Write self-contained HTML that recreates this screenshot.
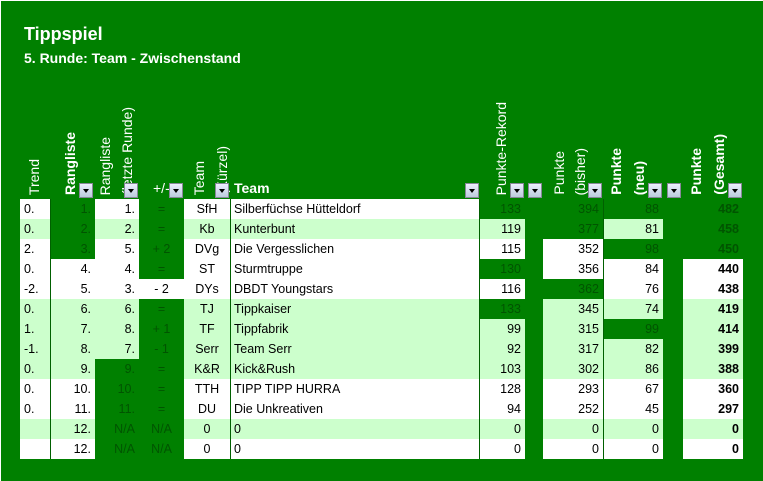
<!DOCTYPE html>
<html><head><meta charset="utf-8">
<style>
body{margin:0;width:763px;height:481px;overflow:hidden;background:#fff;}
#root{position:absolute;left:1px;top:1px;width:762px;height:480px;background:#008000;font-family:"Liberation Sans",sans-serif;overflow:hidden}
.t1{position:absolute;left:23px;top:23px;color:#fff;font-weight:bold;font-size:18px}
.t2{position:absolute;left:23px;top:49px;color:#fff;font-weight:bold;font-size:14px}
.vh{position:absolute;writing-mode:vertical-rl;transform:rotate(180deg);color:#fff;font-size:14px;line-height:20px;white-space:nowrap}
.b{font-weight:bold}
.hh{position:absolute;color:#fff;font-size:14px;top:179px}
.fb{position:absolute;top:182px;width:14px;height:15px;background:linear-gradient(#eef,#bcd);border:1px solid #889;box-sizing:border-box}
.fb:after{content:"";position:absolute;left:3px;top:5px;border-left:3px solid transparent;border-right:3px solid transparent;border-top:4px solid #000}
.c{position:absolute;height:20px;line-height:20px;font-size:12.5px;box-sizing:border-box;padding:0 4px;white-space:nowrap;overflow:hidden}
.vl{position:absolute;width:1px;background:#006000}
</style></head><body>
<div id="root">
<div class="t1">Tippspiel</div>
<div class="t2">5. Runde: Team - Zwischenstand</div>

<div class="vh" style="left:23px;bottom:286px">Trend</div>
<div class="vh b" style="left:59px;bottom:286px">Rangliste</div>
<div class="vh" style="left:94px;bottom:286px">Rangliste</div>
<div class="vh" style="left:116px;bottom:286px">(letzte Runde)</div>
<div class="hh" style="left:152px">+/-</div>
<div class="vh" style="left:188px;bottom:286px">Team</div>
<div class="vh" style="left:211px;bottom:286px">(Kürzel)</div>
<div class="hh b" style="left:233px">Team</div>
<div class="vh" style="left:490px;bottom:286px">Punkte-Rekord</div>
<div class="vh" style="left:548px;bottom:286px">Punkte</div>
<div class="vh" style="left:569px;bottom:286px">(bisher)</div>
<div class="vh b" style="left:605px;bottom:286px">Punkte</div>
<div class="vh b" style="left:628px;bottom:286px">(neu)</div>
<div class="vh b" style="left:685px;bottom:286px">Punkte</div>
<div class="vh b" style="left:708px;bottom:286px">(Gesamt)</div>

<div class="fb" style="left:78px"></div>
<div class="fb" style="left:123px"></div>
<div class="fb" style="left:168px"></div>
<div class="fb" style="left:214px"></div>
<div class="fb" style="left:464px"></div>
<div class="fb" style="left:509px"></div>
<div class="fb" style="left:527px"></div>
<div class="fb" style="left:587px"></div>
<div class="fb" style="left:647px"></div>
<div class="fb" style="left:666px"></div>
<div class="fb" style="left:727px"></div>
<div id="tbl"></div>
</div>
<script>
const trend=["0.","0.","2.","0.","-2.","0.","1.","-1.","0.","0.","0.","",""];
const rang=["1.","2.","3.","4.","5.","6.","7.","8.","9.","10.","11.","12.","12."];
const rangAlt=["1.","2.","5.","4.","3.","6.","8.","7.","9.","10.","11.","N/A","N/A"];
const diff=["=","=","+ 2","=","- 2","=","+ 1","- 1","=","=","=","N/A","N/A"];
const kurz=["SfH","Kb","DVg","ST","DYs","TJ","TF","Serr","K&R","TTH","DU","0","0"];
const teams=["Silberfüchse Hütteldorf","Kunterbunt","Die Vergesslichen","Sturmtruppe","DBDT Youngstars","Tippkaiser","Tippfabrik","Team Serr","Kick&Rush","TIPP TIPP HURRA","Die Unkreativen","0","0"];
const rekord=[133,119,115,130,116,133,99,92,103,128,94,0,0];
const bisher=[394,377,352,356,362,345,315,317,302,293,252,0,0];
const neu=[88,81,98,84,76,74,99,82,86,67,45,0,0];
const gesamt=[482,458,450,440,438,419,414,399,388,360,297,0,0];
const fills=["WGWGWWGGGGGG","LGLGLLLGGLGG","WGWGWWWGWGGG","WWWGWWGGWWGW","WWWWWWWGGWGW","LLLGLLGGLLGL","LLLGLLLGLGGL","LLLGLLLGLLGL","LLGGLLLGLLGL","WWGGWWWGWWGW","WWGGWWWGWWGW","LLGGLLLGLLGL","WWGGWWWGWWGW"];
const cols=[[20,50,"left"],[50,95,"right"],[95,139,"right"],[139,184,"center"],[184,230,"center"],[230,479,"left"],[479,525,"right"],[525,543,"left"],[543,603,"right"],[603,663,"right"],[663,683,"left"],[683,743,"right"]];
const colNames=["trend","rang","rang-alt","diff","kuerzel","team","rekord","gap","bisher","neu","gap","gesamt"];
const tbl=document.getElementById('tbl');
const top0=199,rh=20;
const bg={W:"#ffffff",L:"#ccffcc",G:"#008000"};
for(let i=0;i<rang.length;i++){
  const vals=[trend[i],rang[i],rangAlt[i],diff[i],kurz[i],teams[i],rekord[i],"",bisher[i],neu[i],"",gesamt[i]];
  for(let j=0;j<cols.length;j++){
    const d=document.createElement('div');
    d.className='c';
    
    
    const f=fills[i][j];
    d.style.left=(cols[j][0]-1)+'px';
    d.style.width=(cols[j][1]-cols[j][0])+'px';
    d.style.top=(top0+i*rh-1)+'px';
    d.style.background=bg[f];
    d.style.textAlign=cols[j][2];
    d.style.color=f==='G'?'#005400':'#000';
    if(j===11)d.style.fontWeight='bold';
    d.textContent=vals[j];
    tbl.appendChild(d);
  }
}
[50,230,479,603].forEach(x=>{
  const v=document.createElement('div');
  v.className='vl';
  
  
  v.style.left=(x-1)+'px';v.style.top=(top0-1)+'px';v.style.height=(rang.length*rh)+'px';
  tbl.appendChild(v);
});
</script>
</body></html>
